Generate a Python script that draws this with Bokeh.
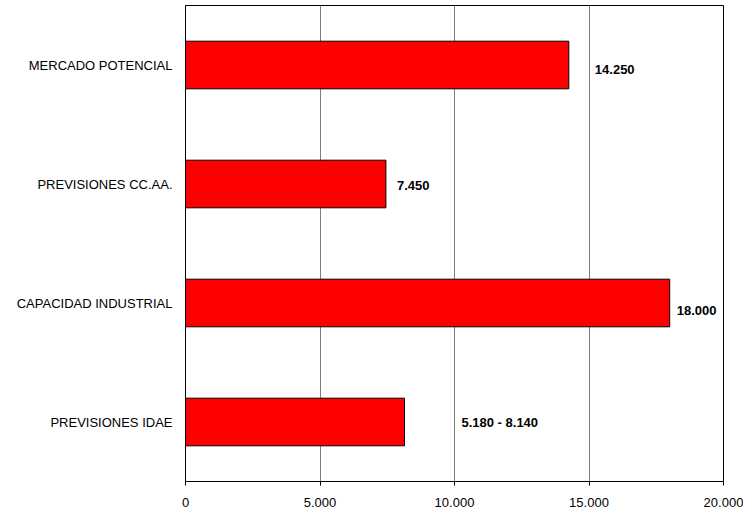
from bokeh.plotting import figure
from bokeh.models import ColumnDataSource, FixedTicker, FactorRange, Range1d
from bokeh.core.properties import value
from bokeh.embed import file_html
from bokeh.resources import INLINE

categories = ["MERCADO POTENCIAL", "PREVISIONES CC.AA.", "CAPACIDAD INDUSTRIAL", "PREVISIONES IDAE"]
values = [14250, 7450, 18000, 8140]
value_labels = ["14.250", "7.450", "18.000", "5.180 - 8.140"]
tick_values = [0, 5000, 10000, 15000, 20000]
tick_labels = ["0", "5.000", "10.000", "15.000", "20.000"]

# label offsets (pixels) as in the original manual placement
label_dx = [26, 11, 7, 57]
label_dy = [4, 1, 7, 0]

FONT = "Liberation Sans"

p = figure(
    y_range=FactorRange(*reversed(categories), range_padding=0),
    x_range=Range1d(0, 20000),
    frame_width=538, frame_height=476,
    min_border_left=185, min_border_right=20, min_border_top=5, min_border_bottom=28,
    output_backend="svg", toolbar_location=None,
)

src = ColumnDataSource(dict(cat=categories, val=values, lab=value_labels, dx=label_dx, dy=label_dy))
p.hbar(y="cat", right="val", left=0, height=0.4, source=src,
       fill_color="#FF0000", line_color="#000000", line_width=1)
p.text(x="val", y="cat", text="lab", x_offset="dx", y_offset="dy", source=src,
       text_font=value(FONT), text_font_size="13px", text_font_style="bold",
       text_baseline="middle", text_align="left", text_color="#000000")

p.xaxis.ticker = FixedTicker(ticks=tick_values)
p.xaxis.major_label_overrides = {v: l for v, l in zip(tick_values, tick_labels)}
p.xaxis.major_tick_out = 4
p.xaxis.major_tick_in = 0
p.xaxis.minor_tick_line_color = None
p.xaxis.major_label_standoff = 12
p.axis.axis_line_color = "#000000"
p.axis.major_tick_line_color = "#000000"
p.axis.major_label_text_font = FONT
p.axis.major_label_text_font_size = "13px"
p.axis.major_label_text_color = "#000000"

p.yaxis.major_tick_line_color = None
p.yaxis.minor_tick_line_color = None
p.yaxis.major_label_standoff = 7

p.xgrid.grid_line_color = "#808080"
p.xgrid.grid_line_width = 1
p.xgrid.ticker = FixedTicker(ticks=tick_values)
p.ygrid.grid_line_color = None

p.outline_line_color = "#000000"
p.outline_line_width = 1
p.background_fill_color = "#FFFFFF"
p.border_fill_color = "#FFFFFF"

open("out.html", "w").write(file_html(p, INLINE))
